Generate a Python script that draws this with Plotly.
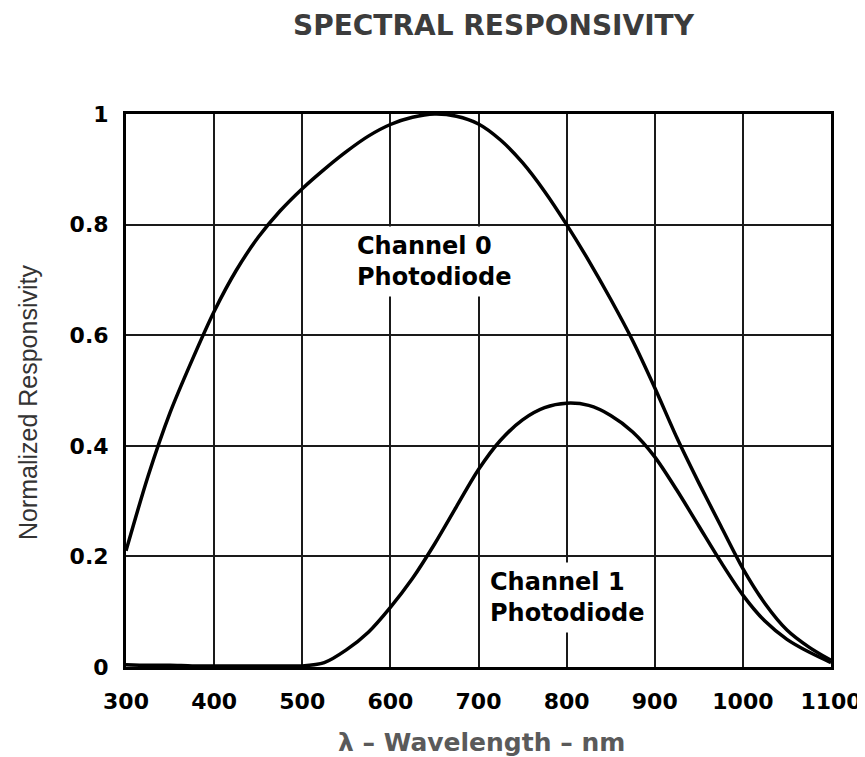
import plotly.graph_objects as go

wavelength = [300, 325, 350, 375, 400, 425, 450, 475, 500, 525, 550, 575, 600, 625, 650,
              675, 700, 725, 750, 775, 800, 825, 850, 875, 900, 925, 950, 975, 1000,
              1025, 1050, 1075, 1100]
channel0 = [0.21, 0.345, 0.46, 0.555, 0.643, 0.717, 0.777, 0.825, 0.865, 0.90, 0.932, 0.96,
            0.981, 0.994, 1.0, 0.996, 0.982, 0.953, 0.912, 0.86, 0.80, 0.735, 0.665, 0.59,
            0.505, 0.415, 0.333, 0.255, 0.178, 0.115, 0.067, 0.036, 0.012]
channel1 = [0.004, 0.003, 0.003, 0.002, 0.002, 0.002, 0.002, 0.002, 0.002, 0.008, 0.031, 0.063,
            0.108, 0.16, 0.222, 0.29, 0.357, 0.41, 0.447, 0.469, 0.477, 0.473, 0.455, 0.425,
            0.38, 0.32, 0.255, 0.19, 0.13, 0.083, 0.05, 0.027, 0.008]

x_ticks = [300, 400, 500, 600, 700, 800, 900, 1000, 1100]
y_ticks = [0, 0.2, 0.4, 0.6, 0.8, 1]
y_ticktext = ["0", "0.2", "0.4", "0.6", "0.8", "1"]

title_text = "SPECTRAL RESPONSIVITY"
x_title = "λ – Wavelength – nm"
y_title = "Normalized Responsivity"
label0 = "Channel 0<br>Photodiode"
label1 = "Channel 1<br>Photodiode"

fig = go.Figure()
for ys in (channel0, channel1):
    fig.add_trace(go.Scatter(x=wavelength, y=ys, mode="lines",
                             line=dict(color="black", width=3.5, shape="spline", smoothing=0.8),
                             showlegend=False, hoverinfo="skip", cliponaxis=True))

bold = dict(family="DejaVu Sans", size=22, color="black", weight="bold")

fig.update_layout(
    width=857, height=749,
    margin=dict(l=118, r=34, t=106, b=90, autoexpand=False),
    paper_bgcolor="white", plot_bgcolor="white",
    showlegend=False,
    xaxis=dict(range=[300, 1100], tickvals=x_ticks, ticks="", showgrid=True,
               gridcolor="#1a1a1a", gridwidth=1.5, showline=True, linecolor="black",
               linewidth=3, mirror=True, zeroline=False, tickfont=bold,
               ticklabelstandoff=13, fixedrange=True, automargin=False),
    yaxis=dict(range=[0, 1], tickvals=y_ticks, ticktext=y_ticktext, ticks="", showgrid=True,
               gridcolor="#1a1a1a", gridwidth=1.5, showline=True, linecolor="black",
               linewidth=3, mirror=True, zeroline=False, tickfont=bold,
               ticklabelstandoff=10, fixedrange=True, automargin=False),
)

fig.add_annotation(text=title_text, xref="paper", yref="paper", x=0.522, y=1.1917,
                   showarrow=False, xanchor="center", yanchor="top", borderpad=0,
                   font=dict(family="DejaVu Sans", size=28, color="#3c3c3c", weight="bold"))
fig.add_annotation(text=y_title, xref="paper", yref="paper", x=-0.139, y=0.479,
                   showarrow=False, textangle=-90, xanchor="center", yanchor="middle",
                   font=dict(family="Liberation Sans", size=25, color="#333333"))
fig.add_annotation(text=x_title, xref="paper", yref="paper", x=0.504, y=-0.137,
                   showarrow=False, xanchor="center", yanchor="middle",
                   font=dict(family="DejaVu Sans", size=25, color="#5a5a5a", weight="bold"))
fig.add_annotation(text=label0, xref="x", yref="y", x=649, y=0.734, showarrow=False,
                   align="left", xanchor="center", yanchor="middle", bgcolor="white",
                   borderpad=5, font=dict(family="DejaVu Sans", size=24, color="black", weight="bold"))
fig.add_annotation(text=label1, xref="x", yref="y", x=800.6, y=0.125, showarrow=False,
                   align="left", xanchor="center", yanchor="middle", bgcolor="white",
                   borderpad=5, font=dict(family="DejaVu Sans", size=24, color="black", weight="bold"))

fig.write_html("out.html")
